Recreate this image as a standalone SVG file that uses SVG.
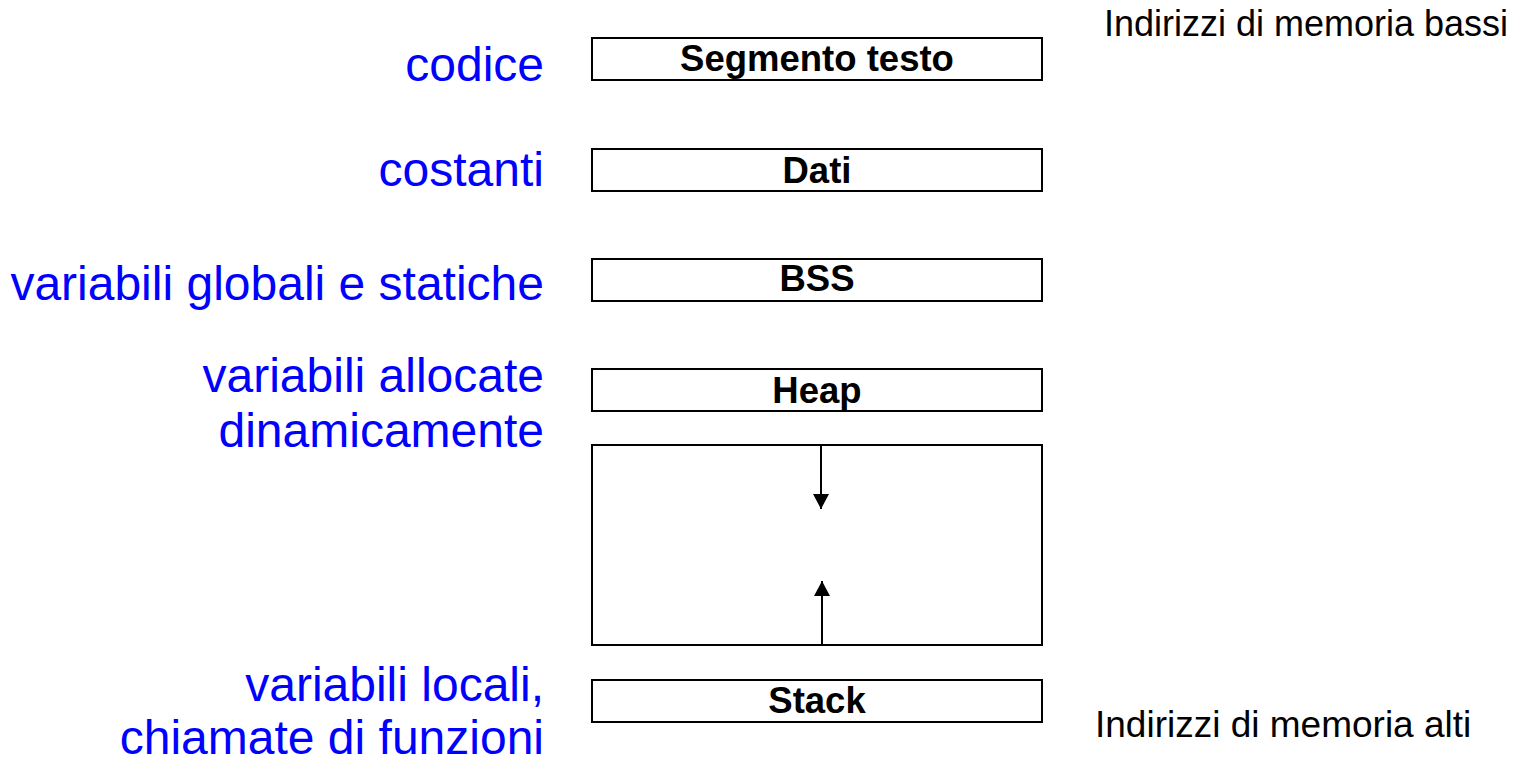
<svg xmlns="http://www.w3.org/2000/svg" width="1532" height="761" viewBox="0 0 1532 761">
  <style>
    .seg { fill: #ffffff; stroke: #000000; stroke-width: 2; }
    .seg-label { font-family: "Liberation Sans", Arial, sans-serif; font-weight: bold; font-size: 36.5px; fill: #000000; text-anchor: middle; }
    .role { font-family: "Liberation Sans", Arial, sans-serif; font-size: 48px; fill: #0000ff; text-anchor: end; }
    .addr { font-family: "Liberation Sans", Arial, sans-serif; font-size: 36px; fill: #000000; }
    .growth { stroke: #000000; stroke-width: 2; fill: none; marker-end: url(#head); }
  </style>
  <defs>
    <marker id="head" markerUnits="userSpaceOnUse" markerWidth="16" markerHeight="16" refX="15" refY="8" orient="auto">
      <path d="M0,0 L15,8 L0,16 Z" fill="#000000"/>
    </marker>
  </defs>

  <rect width="1532" height="761" fill="#ffffff"/>

  <!-- memory segments, low addresses at the top -->
  <g id="segmento-testo">
    <rect class="seg" x="592" y="38" width="450" height="42"/>
    <text class="seg-label" x="817" y="71">Segmento testo</text>
  </g>
  <g id="dati">
    <rect class="seg" x="592" y="149" width="450" height="42"/>
    <text class="seg-label" x="817" y="183">Dati</text>
  </g>
  <g id="bss">
    <rect class="seg" x="592" y="259" width="450" height="42"/>
    <text class="seg-label" x="817" y="291">BSS</text>
  </g>
  <g id="heap">
    <rect class="seg" x="592" y="369" width="450" height="42"/>
    <text class="seg-label" x="817" y="403">Heap</text>
  </g>
  <g id="spazio-libero">
    <rect class="seg" x="592" y="445" width="450" height="200"/>
  </g>
  <g id="stack">
    <rect class="seg" x="592" y="680" width="450" height="42"/>
    <text class="seg-label" x="817" y="713">Stack</text>
  </g>

  <!-- heap grows down, stack grows up -->
  <g id="connectors">
    <line class="growth" x1="821" y1="445" x2="821" y2="509"/>
    <line class="growth" x1="822" y1="645" x2="822" y2="581"/>
  </g>

  <!-- what each segment holds -->
  <g id="descrizioni">
    <text class="role" x="544" y="81">codice</text>
    <text class="role" x="544" y="186">costanti</text>
    <text class="role" x="544" y="300">variabili globali e statiche</text>
    <text class="role" x="544" y="392">variabili allocate</text>
    <text class="role" x="544" y="447">dinamicamente</text>
    <text class="role" x="544" y="701">variabili locali,</text>
    <text class="role" x="544" y="754">chiamate di funzioni</text>
  </g>

  <!-- address range labels -->
  <g id="indirizzi">
    <text class="addr" x="1104" y="36">Indirizzi di memoria bassi</text>
    <text class="addr" x="1095" y="737" style="font-size:37px">Indirizzi di memoria alti</text>
  </g>
</svg>
